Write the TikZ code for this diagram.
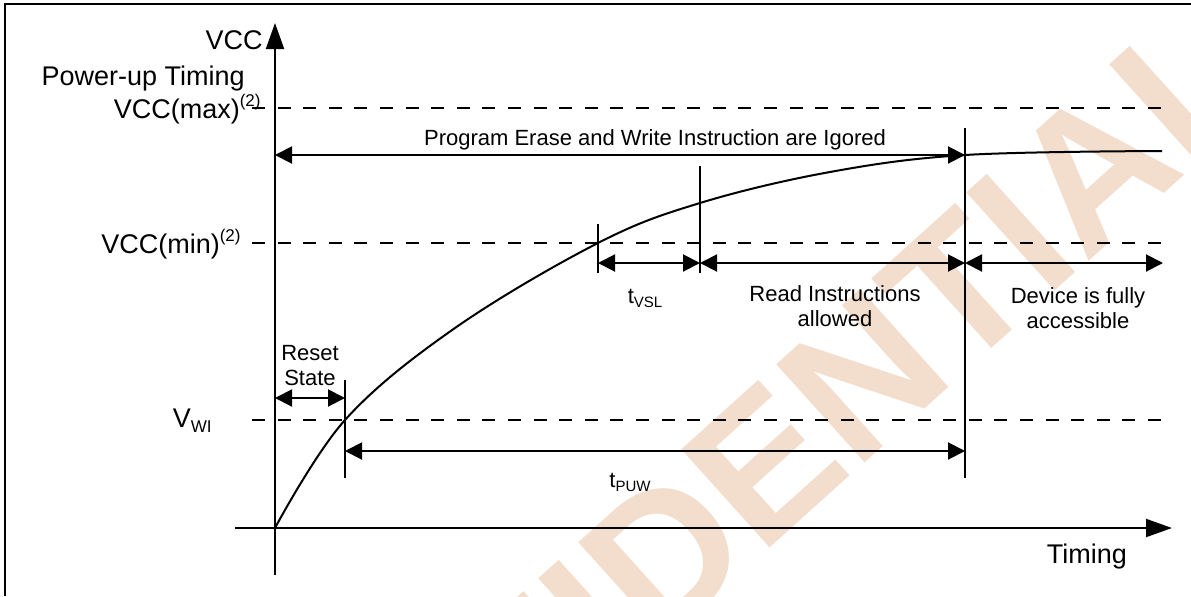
\documentclass[tikz,border=0pt]{standalone}
\usepackage{fontspec}
\setmainfont{Liberation Sans}
\usetikzlibrary{arrows.meta}

\definecolor{wmcol}{RGB}{243,221,204}

\begin{document}
\begin{tikzpicture}[x=0.5pt,y=-0.5pt]

\def\xo{275}
\def\yo{528}
\def\ymax{108}
\def\ymin{243}
\def\ywi{420}
\def\dashl{252}
\def\dashr{1170}
\def\yarr{263}
\def\supn{\raisebox{6pt}{\fontsize{8.5}{9}\selectfont(2)}}

\tikzset{txt/.style = {inner sep=0pt, font=\fontsize{11}{12.5}\selectfont},
         bigtxt/.style = {inner sep=0pt, font=\fontsize{13.5}{16}\selectfont},
         wmark/.style = {inner sep=0pt, text=wmcol, font=\fontsize{96}{96}\selectfont\bfseries},
         lvl/.style = {line width=1pt, dash pattern=on 6.5pt off 6.3pt},
         vline/.style = {line width=0.8pt},
         span/.style = {line width=1pt, {Triangle[length=8.5pt,width=8.5pt]}-{Triangle[length=8.5pt,width=8.5pt]}},
         axisline/.style = {line width=1pt, -{Triangle[length=13pt,width=9pt]}}}

\useasboundingbox (0,0) rectangle (1191,596);

% watermark
\node[wmark, rotate=42] (wm) at (700,522) {CONFIDENTIAL};

% frame
\draw[line width=1pt] (5,596) -- (5,4) -- (1191,4);

% axes
\coordinate (O) at (\xo,\yo);
\coordinate (Ytop) at (\xo,23);
\coordinate (Ybot) at (\xo,575);
\coordinate (Xl) at (235,\yo);
\coordinate (Xr) at (1172,\yo);

\draw[axisline] (Ybot) -- (Ytop);
\draw[axisline] (Xl) -- (Xr);

% levels
\coordinate (Lmax) at (\dashl,\ymax);
\coordinate (Rmax) at (\dashr,\ymax);
\coordinate (Lmin) at (\dashl,\ymin);
\coordinate (Rmin) at (\dashr,\ymin);
\coordinate (Lwi)  at (\dashl,\ywi);
\coordinate (Rwi)  at (\dashr,\ywi);

\draw[lvl] (Lmax) -- (Rmax);
\draw[lvl] (Lmin) -- (Rmin);
\draw[lvl] (Lwi) -- (Rwi);

% curve
\coordinate (Cwi)  at (345,\ywi);
\coordinate (C2)   at (455,328);
\coordinate (Cmin) at (598,\ymin);
\coordinate (Crd)  at (700,203);
\coordinate (C3)   at (830,172);
\coordinate (Cend) at (965,155);
\coordinate (Cfar) at (1162,151);

\draw[line width=1pt] plot[smooth, tension=0.6] coordinates {(O) (Cwi) (C2) (Cmin) (Crd) (C3) (Cend) (Cfar)};

% markers
\coordinate (Mwa) at (345,380);
\coordinate (Mwb) at (345,478);
\coordinate (Mma) at (598,224);
\coordinate (Mmb) at (598,273);
\coordinate (Mra) at (700,166);
\coordinate (Mrb) at (700,273);
\coordinate (Mea) at (965,128);
\coordinate (Meb) at (965,478);

\draw[vline] (Mwa) -- (Mwb);
\draw[vline] (Mma) -- (Mmb);
\draw[vline] (Mra) -- (Mrb);
\draw[vline] (Mea) -- (Meb);

% spans
\coordinate (Ign0) at (\xo,155);
\coordinate (Rst0) at (\xo,398);
\coordinate (Rst1) at (345,398);
\coordinate (Puw0) at (345,451);
\coordinate (Puw1) at (965,451);
\coordinate (Vsl0) at (598,\yarr);
\coordinate (Vsl1) at (700,\yarr);
\coordinate (Acc1) at (965,\yarr);
\coordinate (Acc2) at (1163,\yarr);

\draw[span] (Ign0) -- (Cend);
\draw[span] (Rst0) -- (Rst1);
\draw[span] (Puw0) -- (Puw1);
\draw[span] (Vsl0) -- (Vsl1);
\draw[span] (Vsl1) -- (Acc1);
\draw[span] (Acc1) -- (Acc2);

% labels
\node[bigtxt, anchor=base east] (vcc)  at (263,49)  {VCC};
\node[bigtxt, anchor=base east] (pwr)  at (245,85)  {Power-up Timing};
\node[bigtxt, anchor=base east] (vmax) at (261,118) {VCC(max)\supn};
\node[bigtxt, anchor=base east] (vmin) at (241,253) {VCC(min)\supn};
\node[bigtxt, anchor=base east] (vwi)  at (212,427) {V\raisebox{-2.5pt}{\fontsize{8.5}{9}\selectfont WI}};
\node[bigtxt, anchor=base] (timing) at (1087,563) {Timing};

\node[txt, anchor=base] (ign) at (655,145) {Program Erase and Write Instruction are Igored};
\node[txt, align=center] (rst) at (310,366) {Reset\\State};
\node[txt, anchor=base] (tvsl) at (645,303) {t\raisebox{-2pt}{\fontsize{7.5}{8}\selectfont VSL}};
\node[txt, align=center] (read) at (835,306) {Read Instructions\\allowed};
\node[txt, align=center] (dev) at (1078,308) {Device is fully\\accessible};
\node[txt, anchor=base] (tpuw) at (630,487) {t\raisebox{-2pt}{\fontsize{7.5}{8}\selectfont PUW}};

\end{tikzpicture}
\end{document}
